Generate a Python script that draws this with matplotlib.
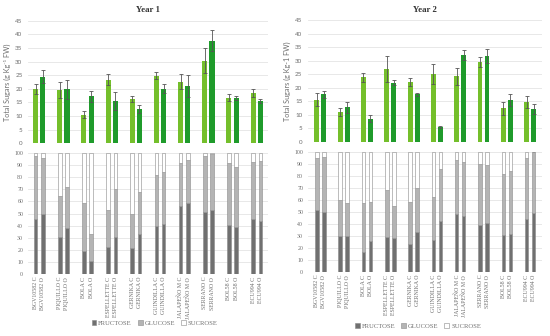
import numpy as np
import matplotlib
matplotlib.use("Agg")
import matplotlib.pyplot as plt
from matplotlib.patches import Patch

# cultivars
cultivars = ["BGV10582", "PIQUILLO", "BOLA", "ESPELLETTE", "GERNIKA",
             "GUINDILLA", "JALAPEÑO M", "SERRANO", "BOL58", "ECU994"]

# total sugars, year 1 (C / O) with error
y1_c = [20.0, 19.5, 10.5, 23.3, 16.3, 24.8, 22.6, 30.3, 16.7, 18.5]
y1_o = [24.5, 19.8, 17.2, 15.5, 12.7, 20.1, 21.0, 37.7, 16.6, 15.6]
y1_c_err = [1.8, 3.0, 1.3, 2.0, 1.0, 1.2, 2.8, 4.5, 1.3, 1.5]
y1_o_err = [2.4, 3.5, 2.0, 3.4, 1.5, 1.8, 4.0, 3.8, 0.8, 0.8]

# total sugars, year 2
y2_c = [15.6, 11.0, 23.8, 27.0, 22.0, 25.0, 24.2, 29.6, 12.4, 14.8]
y2_o = [17.6, 12.8, 8.6, 21.9, 17.5, 5.5, 32.0, 31.7, 15.4, 12.1]
y2_c_err = [2.5, 1.5, 1.6, 4.8, 1.5, 3.8, 3.2, 1.8, 2.4, 2.2]
y2_o_err = [1.3, 2.0, 1.2, 1.0, 0.7, 0.5, 1.8, 2.5, 2.3, 1.7]

# % composition: fructose, fructose+glucose (rest sucrose)
y1_fru_c = [45.6, 30.5, 18.7, 22.0, 21.4, 40.1, 56.6, 51.1, 40.9, 45.6]
y1_glu_c = [97.8, 64.3, 58.8, 52.7, 49.2, 81.9, 91.8, 97.3, 91.8, 92.9]
y1_fru_o = [50.0, 37.9, 11.0, 31.0, 33.2, 41.2, 58.5, 53.3, 38.7, 44.2]
y1_glu_o = [95.9, 72.3, 33.2, 70.6, 68.1, 84.0, 94.5, 99.2, 88.2, 93.4]

y2_fru_c = [51.2, 29.6, 16.9, 29.4, 23.5, 26.9, 48.5, 39.0, 30.7, 44.0]
y2_glu_c = [94.5, 59.6, 57.0, 68.1, 58.5, 62.6, 93.1, 89.8, 81.2, 94.5]
y2_fru_o = [49.9, 30.2, 25.5, 28.0, 33.2, 42.1, 46.5, 41.0, 31.6, 48.8]
y2_glu_o = [95.3, 57.6, 58.2, 54.6, 69.5, 85.3, 91.1, 88.9, 83.9, 99.4]

LIGHT = "#74BF2B"
DARK = "#1F9B2B"
FRU = "#707070"
GLU = "#B4B4B4"
SUC = "#FFFFFF"
EDGE = "#8A8A8A"
GRID = "#E4E4E4"
TXT = "#6E6E6E"
SERIF = "Liberation Serif"
SANS = "Lato"

fig = plt.figure(figsize=(5.5, 3.36), dpi=100)


def panel(left, width, top_box, bot_box, title, ylab, xlim,
          tc, to, tce, toe, fc, gc, fo, go):
    x = np.arange(len(cultivars))
    d = 0.15
    ax = fig.add_axes([left, top_box[0], width, top_box[1]])
    ax.bar(x - d, tc, 0.21, color=LIGHT, zorder=2)
    ax.bar(x + d, to, 0.21, color=DARK, zorder=2)
    ax.errorbar(x - d, tc, yerr=tce, fmt="none", ecolor="#555555",
                elinewidth=0.6, capsize=1.3, capthick=0.6, zorder=3)
    ax.errorbar(x + d, to, yerr=toe, fmt="none", ecolor="#555555",
                elinewidth=0.6, capsize=1.3, capthick=0.6, zorder=3)
    ax.set_ylim(0, 45)
    ax.set_yticks(np.arange(0, 46, 5))
    ax.set_xlim(*xlim)
    ax.set_xticks([])
    ax.grid(axis="y", color=GRID, lw=0.6, zorder=0)
    for s in ax.spines.values():
        s.set_visible(False)
    ax.tick_params(axis="y", length=0, labelsize=4.5, labelcolor=TXT, pad=4)
    for t in ax.get_yticklabels():
        t.set_family(SANS)
    ax.set_ylabel(ylab, fontsize=5.2, color=TXT, family=SANS, labelpad=3)
    ax.set_title(title, fontsize=6.3, family=SERIF, color="#333333",
                 fontweight="bold", pad=6)

    ax2 = fig.add_axes([left, bot_box[0], width, bot_box[1]])
    fc = np.array(fc); gc = np.array(gc); fo = np.array(fo); go = np.array(go)
    w = 0.15
    for xs, f, g in [(x - d, fc, gc), (x + d, fo, go)]:
        ax2.bar(xs, f, w, color=FRU, edgecolor=EDGE, lw=0.4, zorder=2)
        ax2.bar(xs, g - f, w, bottom=f, color=GLU, edgecolor=EDGE, lw=0.4, zorder=2)
        ax2.bar(xs, 100 - g, w, bottom=g, color=SUC, edgecolor=EDGE, lw=0.4, zorder=2)
    ax2.set_ylim(0, 100)
    ax2.set_yticks(np.arange(0, 101, 10))
    ax2.set_xlim(*xlim)
    pos = np.concatenate([x - d, x + d])
    labs = [c + " C" for c in cultivars] + [c + " O" for c in cultivars]
    ax2.set_xticks(pos)
    ax2.set_xticklabels(labs, rotation=90, fontsize=4.0, family=SERIF, color=TXT)
    ax2.grid(axis="y", color=GRID, lw=0.6, zorder=0)
    for s in ax2.spines.values():
        s.set_visible(False)
    ax2.tick_params(length=0, labelsize=4.2, labelcolor=TXT)
    ax2.tick_params(axis="x", pad=2)
    for t in ax2.get_yticklabels():
        t.set_family(SERIF)
    return ax2


a1 = panel(0.051, 0.436, (0.5735, 0.365), (0.1845, 0.360), "Year 1",
           "Total Sugars (g Kg\u207b\u00b9 FW)", (-0.46, 9.46),
           y1_c, y1_o, y1_c_err, y1_o_err, y1_fru_c, y1_glu_c, y1_fru_o, y1_glu_o)
a2 = panel(0.56, 0.4255, (0.578, 0.362), (0.1905, 0.358), "Year 2",
           "Total Sugars (g Kg-1 FW)", (-0.53, 9.51),
           y2_c, y2_o, y2_c_err, y2_o_err, y2_fru_c, y2_glu_c, y2_fru_o, y2_glu_o)

handles = [Patch(facecolor=FRU, edgecolor=EDGE, lw=0.4),
           Patch(facecolor=GLU, edgecolor=EDGE, lw=0.4),
           Patch(facecolor=SUC, edgecolor=EDGE, lw=0.4)]
names = ["FRUCTOSE", "GLUCOSE", "SUCROSE"]
for cx, cy in ((0.281, 0.038), (0.76, 0.03)):
    fig.legend(handles, names, loc="center", bbox_to_anchor=(cx, cy),
               ncol=3, frameon=False, prop={"family": SERIF, "size": 4.8},
               handlelength=0.7, handleheight=0.7, handletextpad=0.3,
               columnspacing=0.9, labelcolor=TXT)

fig.savefig("out.png", dpi=100)
